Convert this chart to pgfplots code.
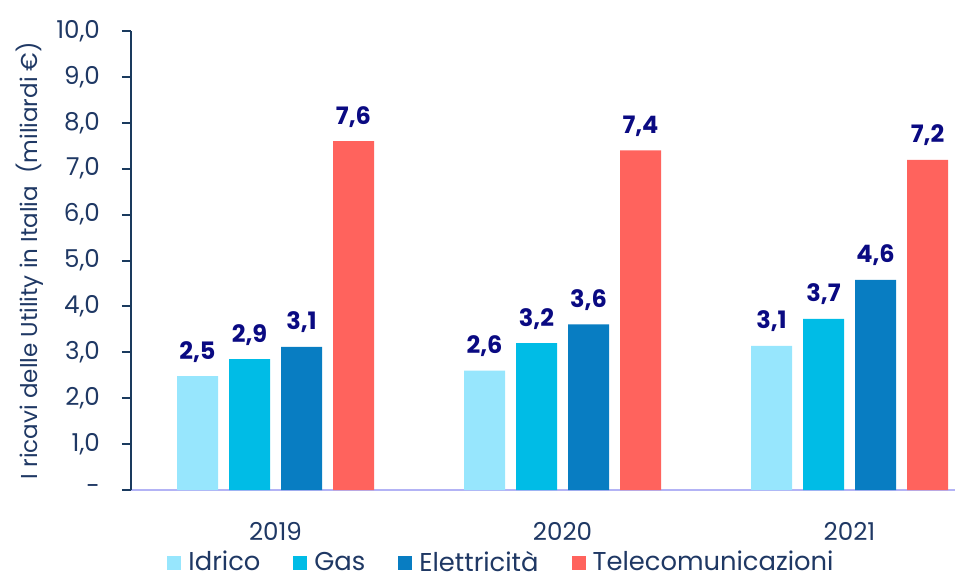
\documentclass[border=0pt]{standalone}
\usepackage{fontspec}
\setmainfont{Poppins}
\usepackage{pgfplots}
\pgfplotsset{compat=1.18}

\definecolor{idrico}{HTML}{97E6FD}
\definecolor{gas}{HTML}{00BCE6}
\definecolor{elett}{HTML}{087DC2}
\definecolor{tele}{HTML}{FF635D}
\definecolor{lab}{HTML}{0A0A82}
\definecolor{txt}{HTML}{1F3864}
\definecolor{spine}{HTML}{1A3A5E}
\definecolor{xline}{HTML}{B3B3F5}

\begin{document}
\begin{tikzpicture}
\useasboundingbox (-65.5pt,-45pt) rectangle (412pt,245pt);
\begin{axis}[
  at={(0,0)}, anchor=south west,
  width=412pt, height=229.5pt, scale only axis,
  ybar=5.5pt, bar width=20.5pt,
  xmin=-0.5035, xmax=2.3676, ymin=0, ymax=10,
  enlarge x limits=false, enlarge y limits=false,
  axis x line*=bottom, axis y line*=left,
  x axis line style={xline, line width=1pt, -},
  y axis line style={spine, line width=1pt, -},
  xtick={0,1,2}, xticklabels={2019,2020,2021},
  xtick style={draw=none},
  x tick label style={anchor=center, yshift=-16pt, font=\fontsize{12.3}{14}\selectfont, text=txt},
  ytick={0,1,...,10},
  yticklabels={{-\hspace{8pt}},{1,0},{2,0},{3,0},{4,0},{5,0},{6,0},{7,0},{8,0},{9,0},{10,0}},
  y tick label style={font=\fontsize{12.3}{14}\selectfont, text=txt, xshift=-7.5pt},
  ytick style={spine, line width=1pt},
  tick align=outside, major tick length=4.5pt,
  ylabel={I ricavi delle Utility in Italia\ \ (miliardi €)},
  ylabel style={at={(axis description cs:-0.1226,0.5)}, anchor=center,
    font=\fontsize{11.5}{12}\selectfont, text=txt},
  clip=false,
  point meta=explicit symbolic,
  nodes near coords,
  every node near coord/.append style={anchor=base, yshift=8.5pt,
    font=\fontsize{12}{14}\selectfont\bfseries, text=lab},
  legend style={at={(rel axis cs:0.4527,-0.158)}, anchor=center, draw=none,
    font=\fontsize{12.9}{14}\selectfont, text=txt, inner sep=0pt,
    nodes={inner xsep=3.5pt},
    /tikz/every even column/.append style={column sep=13pt}},
  legend columns=-1,
  legend image code/.code={\fill[#1] (0pt,-3.5pt) rectangle (7pt,3.5pt);},
]
\addplot[fill=idrico, draw=none] coordinates {(0,2.48) [2,5] (1,2.60) [2,6] (2,3.14) [3,1]};
\addlegendentry{Idrico}
\addplot[fill=gas, draw=none] coordinates {(0,2.85) [2,9] (1,3.20) [3,2] (2,3.73) [3,7]};
\addlegendentry{Gas}
\addplot[fill=elett, draw=none] coordinates {(0,3.12) [3,1] (1,3.61) [3,6] (2,4.58) [4,6]};
\addlegendentry{Elettricità}
\addplot[fill=tele, draw=none] coordinates {(0,7.60) [7,6] (1,7.40) [7,4] (2,7.19) [7,2]};
\addlegendentry{Telecomunicazioni}
\end{axis}
\end{tikzpicture}
\end{document}
